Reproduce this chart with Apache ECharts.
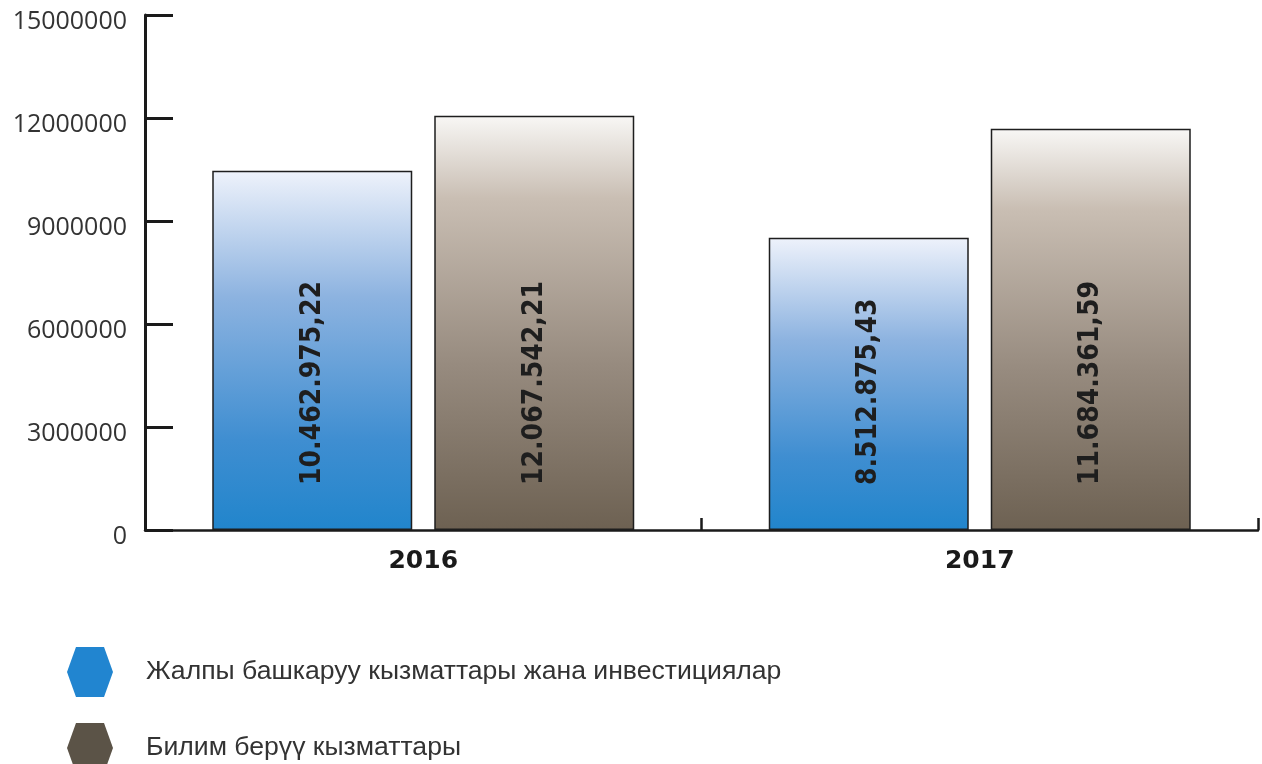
<!DOCTYPE html>
<html>
<head>
<meta charset="utf-8">
<script src="https://cdn.jsdelivr.net/npm/echarts@6/dist/echarts.min.js"></script>
<style>
  html, body { margin: 0; padding: 0; background: #fff; }
  #chart { width: 1262px; height: 764px; }
</style>
</head>
<body>
<div id="chart"></div>
<script>
// categories and values
var years = ['2016', '2017'];
var seriesNames = ['Жалпы башкаруу кызматтары жана инвестициялар', 'Билим берүү кызматтары'];
var governance = [10462975.22, 8512875.43];
var education = [12067542.21, 11684361.59];
var legendColors = ['#2185d0', '#5b5347'];

// 10462975.22 -> 10.462.975,22
function fmt (v) {
  var parts = v.toFixed(2).split('.');
  return parts[0].replace(/\B(?=(\d{3})+(?!\d))/g, '.') + ',' + parts[1];
}

var hex = 'path://M18,0 L74,0 L92,50 L74,100 L18,100 L0,50 Z';

var chart = echarts.init(document.getElementById('chart'));

var barLabel = {
  show: true,
  position: 'insideBottom',
  distance: 45,
  rotate: 90,
  align: 'left',
  verticalAlign: 'middle',
  fontFamily: 'DejaVu Sans Condensed',
  fontWeight: 'bold',
  fontSize: 28,
  color: '#1e1e1e',
  formatter: function (p) { return fmt(p.value); }
};

// one legend per series so they stack like the original
function makeLegend (i, top) {
  return {
    left: 62,
    top: top,
    itemWidth: 46,
    itemHeight: 50,
    icon: hex,
    textStyle: { fontFamily: 'Liberation Sans', fontSize: 26.6, color: '#333', padding: [3, 0, 0, 28] },
    data: [{ name: seriesNames[i], itemStyle: { color: legendColors[i], borderWidth: 0 } }]
  };
}

chart.setOption({
  animation: false,
  textStyle: { fontFamily: 'Open Sans' },
  grid: { left: 145, right: 4, top: 15, bottom: 234 },
  legend: [makeLegend(0, 642), makeLegend(1, 718)],
  xAxis: {
    type: 'category',
    data: years,
    axisLine: { lineStyle: { color: '#1a1a1a', width: 2.5 } },
    axisTick: { show: true, interval: 0, inside: true, length: 12, lineStyle: { color: '#1a1a1a', width: 2.5 } },
    axisLabel: { fontFamily: 'DejaVu Sans', fontWeight: 'bold', fontSize: 25, color: '#1a1a1a', margin: 19 }
  },
  yAxis: {
    type: 'value',
    min: 0,
    max: 15000000,
    interval: 3000000,
    splitLine: { show: false },
    axisLine: { show: true, lineStyle: { color: '#1a1a1a', width: 3 } },
    axisTick: { show: true, inside: true, length: 28, lineStyle: { color: '#1a1a1a', width: 3 } },
    axisLabel: {
      fontSize: 25, color: '#333', margin: 18, verticalAlign: 'top', lineHeight: 14,
      formatter: function (v) { return String(v); }
    }
  },
  series: [
    {
      name: seriesNames[0],
      type: 'bar',
      data: governance,
      barWidth: 200,
      barGap: '11%',
      itemStyle: {
        borderColor: '#1e1e1e',
        borderWidth: 1.5,
        color: new echarts.graphic.LinearGradient(0, 0, 0, 1, [
          { offset: 0, color: '#eef2fb' },
          { offset: 0.35, color: '#8db3e0' },
          { offset: 0.75, color: '#3f8ed1' },
          { offset: 1, color: '#2185cc' }
        ])
      },
      label: barLabel
    },
    {
      name: seriesNames[1],
      type: 'bar',
      data: education,
      barWidth: 200,
      itemStyle: {
        borderColor: '#1e1e1e',
        borderWidth: 1.5,
        color: new echarts.graphic.LinearGradient(0, 0, 0, 1, [
          { offset: 0, color: '#f8f7f5' },
          { offset: 0.2, color: '#c9beb3' },
          { offset: 0.6, color: '#978b7f' },
          { offset: 1, color: '#6d6152' }
        ])
      },
      label: barLabel
    }
  ]
});
</script>
</body>
</html>
